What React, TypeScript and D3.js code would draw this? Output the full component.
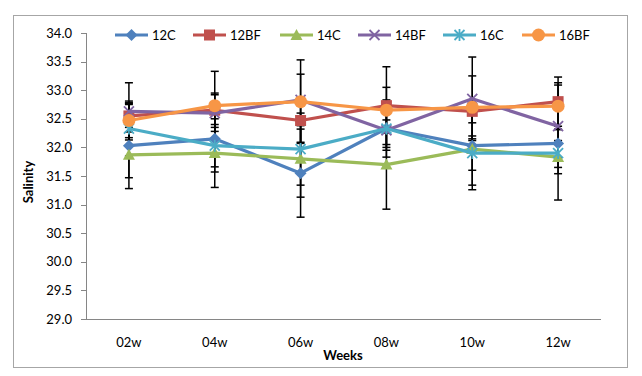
import React from "react";
import * as d3 from "d3";

const weeks = ["02w", "04w", "06w", "08w", "10w", "12w"];
const seriesNames = ["12C", "12BF", "14C", "14BF", "16C", "16BF"];
const colors = ["#4F81BD", "#C0504D", "#9BBB59", "#8064A2", "#4BACC6", "#F79646"];
const markers = ["diamond", "square", "triangle", "x", "star", "circle"];

const v12C = [32.03, 32.15, 31.55, 32.33, 32.03, 32.07];
const v12BF = [32.55, 32.65, 32.47, 32.73, 32.63, 32.8];
const v14C = [31.87, 31.9, 31.8, 31.7, 31.97, 31.83];
const v14BF = [32.63, 32.6, 32.83, 32.3, 32.85, 32.37];
const v16C = [32.33, 32.03, 31.97, 32.33, 31.9, 31.9];
const v16BF = [32.47, 32.73, 32.8, 32.65, 32.7, 32.72];

const e12C = [0.75, 0.58, 0.77, 0.38, 0.69, 0.25];
const e12BF = [0.2, 0.3, 0.38, 0.68, 0.2, 0.43];
const e14C = [0.4, 0.6, 0.67, 0.78, 0.71, 0.29];
const e14BF = [0.5, 0.32, 0.45, 0.3, 0.73, 0.72];
const e16C = [0.48, 0.37, 0.63, 0.5, 0.3, 0.82];
const e16BF = [0.3, 0.6, 0.73, 0.4, 0.55, 0.41];

const yTicks = [29.0, 29.5, 30.0, 30.5, 31.0, 31.5, 32.0, 32.5, 33.0, 33.5, 34.0];

const values = [v12C, v12BF, v14C, v14BF, v16C, v16BF];
const errors = [e12C, e12BF, e14C, e14BF, e16C, e16BF];

const FONT = "Lato, 'Open Sans', sans-serif";

function Marker({ type, x, y, color }: { type: string; x: number; y: number; color: string }) {
  switch (type) {
    case "diamond":
      return <path d={`M${x},${y - 6}L${x + 6},${y}L${x},${y + 6}L${x - 6},${y}Z`} fill={color} />;
    case "square":
      return <rect x={x - 5.5} y={y - 5.5} width={11} height={11} fill={color} />;
    case "triangle":
      return <path d={`M${x},${y - 6}L${x + 6},${y + 5}L${x - 6},${y + 5}Z`} fill={color} />;
    case "x":
      return (
        <path d={`M${x - 5},${y - 5}L${x + 5},${y + 5}M${x - 5},${y + 5}L${x + 5},${y - 5}`} stroke={color} strokeWidth={1.8} fill="none" />
      );
    case "star":
      return (
        <path
          d={`M${x - 5},${y - 5}L${x + 5},${y + 5}M${x - 5},${y + 5}L${x + 5},${y - 5}M${x},${y - 6}L${x},${y + 6}`}
          stroke={color}
          strokeWidth={1.8}
          fill="none"
        />
      );
    default:
      return <circle cx={x} cy={y} r={6.5} fill={color} />;
  }
}

export default function App() {
  const W = 642;
  const H = 376;
  const left = 86;
  const right = 601;
  const top = 33;
  const bottom = 319;

  const x = d3.scaleBand<string>().domain(weeks).range([left, right]);
  const cx = (w: string) => (x(w) as number) + x.bandwidth() / 2;
  const y = d3.scaleLinear().domain([29, 34]).range([bottom, top]);

  const line = d3
    .line<number>()
    .x((_, i) => cx(weeks[i]))
    .y((d) => y(d));

  const legendX = [115, 193, 280, 358, 443, 522];

  return (
    <svg width={W} height={H} style={{ position: "absolute", left: 0, top: 0 }} fontFamily={FONT}>
      <rect x={0} y={0} width={W} height={H} fill="#fff" />
      <rect x={13.5} y={15.5} width={614} height={352} fill="#fff" stroke="#a6a6a6" strokeWidth={1} />

      {/* axes */}
      <line x1={left + 0.5} x2={left + 0.5} y1={top} y2={bottom} stroke="#868686" />
      <line x1={left} x2={right} y1={bottom + 0.5} y2={bottom + 0.5} stroke="#868686" />
      {yTicks.map((t) => (
        <g key={t}>
          <line x1={left - 5} x2={left} y1={Math.round(y(t)) + 0.5} y2={Math.round(y(t)) + 0.5} stroke="#868686" />
          <text x={72} y={y(t)} dy="0.35em" textAnchor="end" fontSize={13} fill="#000">
            {t.toFixed(1)}
          </text>
        </g>
      ))}
      {weeks.map((w) => (
        <text key={w} x={cx(w)} y={342} dy="0.35em" textAnchor="middle" fontSize={13} fill="#000">
          {w}
        </text>
      ))}
      <text x={343} y={355} dy="0.35em" textAnchor="middle" fontSize={13} fontWeight="bold">
        Weeks
      </text>
      <text transform={`translate(28,182) rotate(-90)`} dy="0.35em" textAnchor="middle" fontSize={13} fontWeight="bold">
        Salinity
      </text>

      {/* error bars */}
      {values.map((vals, si) =>
        vals.map((v, i) => {
          const px = cx(weeks[i]);
          const hi = y(v + errors[si][i]);
          const lo = y(v - errors[si][i]);
          return (
            <g key={`e${si}-${i}`} stroke="#000" strokeWidth={1.5}>
              <line x1={px} x2={px} y1={hi} y2={lo} />
              <line x1={px - 4} x2={px + 4} y1={hi} y2={hi} />
              <line x1={px - 4} x2={px + 4} y1={lo} y2={lo} />
            </g>
          );
        })
      )}

      {/* lines + markers */}
      {values.map((vals, si) => (
        <g key={`s${si}`}>
          <path d={line(vals) || ""} fill="none" stroke={colors[si]} strokeWidth={3.2} strokeLinejoin="round" />
          {vals.map((v, i) => (
            <Marker key={i} type={markers[si]} x={cx(weeks[i])} y={y(v)} color={colors[si]} />
          ))}
        </g>
      ))}

      {/* legend */}
      {seriesNames.map((n, si) => (
        <g key={n}>
          <line x1={legendX[si]} x2={legendX[si] + 33} y1={35} y2={35} stroke={colors[si]} strokeWidth={3.2} />
          <Marker type={markers[si]} x={legendX[si] + 16.5} y={35} color={colors[si]} />
          <text x={legendX[si] + 37} y={35} dy="0.35em" fontSize={13} fill="#000">
            {n}
          </text>
        </g>
      ))}
    </svg>
  );
}
